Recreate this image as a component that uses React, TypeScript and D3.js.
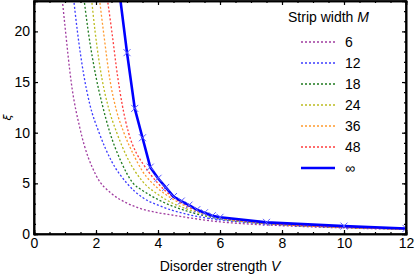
import * as d3 from 'd3';
import { useEffect, useRef } from 'react';

// strip widths and their colours
const widths = ['6', '12', '18', '24', '36', '48'];
const colors = ['#a03ca0', '#3c3cff', '#1e7a1e', '#bcbc20', '#ff9a2e', '#ff3c3c'];

// finite strip curves (V, xi)
const vM6 = [0.9, 1.0, 1.2, 1.5, 2.0, 2.5, 3.0, 3.5, 4.0, 4.5, 5.0, 6.0, 7.0, 8.0, 10.0, 12.0];
const xiM6 = [23.5, 20.5, 15, 10.2, 5.8, 4.0, 3.05, 2.45, 2.1, 1.85, 1.6, 1.2, 0.97, 0.82, 0.6, 0.45];
const vM12 = [1.25, 1.4, 1.6, 1.8, 2.1, 2.5, 3.0, 3.5, 4.0, 5.0, 6.0, 7.0, 8.0, 10.0, 12.0];
const xiM12 = [24, 20, 15.8, 12.8, 10, 7.2, 5.0, 3.6, 2.85, 1.9, 1.4, 1.1, 0.9, 0.65, 0.48];
const vM18 = [1.58, 1.75, 2.0, 2.2, 2.45, 2.8, 3.2, 3.5, 4.0, 5.0, 6.0, 7.0, 8.0, 10.0, 12.0];
const xiM18 = [24, 20, 15.5, 12.8, 10, 7.2, 5.0, 4.3, 3.4, 2.2, 1.5, 1.15, 0.92, 0.66, 0.48];
const vM24 = [1.83, 1.97, 2.2, 2.4, 2.67, 3.0, 3.5, 4.0, 4.5, 5.0, 6.0, 7.0, 8.0, 10.0, 12.0];
const xiM24 = [24, 20, 15.2, 12.5, 10, 7.6, 5.2, 3.9, 3.0, 2.4, 1.55, 1.17, 0.93, 0.66, 0.48];
const vM36 = [2.08, 2.24, 2.45, 2.65, 2.9, 3.2, 3.5, 4.0, 4.5, 5.0, 6.0, 7.0, 8.0, 10.0, 12.0];
const xiM36 = [24, 20, 15.2, 12.3, 10, 7.9, 6.2, 4.5, 3.4, 2.6, 1.6, 1.2, 0.95, 0.67, 0.49];
const vM48 = [2.33, 2.51, 2.7, 2.85, 3.05, 3.3, 3.5, 4.0, 4.5, 5.0, 6.0, 7.0, 8.0, 10.0, 12.0];
const xiM48 = [24, 20, 15.5, 12.7, 10, 8.0, 7.0, 5.0, 3.6, 2.7, 1.65, 1.22, 0.96, 0.68, 0.5];

// M -> infinity (thick line with crosses)
const vInf = [2.75, 3.0, 3.25, 3.5, 3.75, 4.0, 4.25, 4.5, 4.75, 5.0, 5.25, 5.5, 5.75, 6.0, 7.5, 10.0, 12.0];
const xiInf = [24, 17.9, 12.4, 9.5, 6.6, 5.5, 4.6, 3.7, 3.25, 2.85, 2.4, 2.1, 1.8, 1.65, 1.15, 0.78, 0.55];

const xTicks = [0, 2, 4, 6, 8, 10, 12];
const yTicks = [0, 5, 10, 15, 20];

function App() {
  const svgRef = useRef<SVGSVGElement>(null);

  useEffect(() => {
    const w = 415;
    const h = 277;
    const svg = d3.select(svgRef.current);
    svg.selectAll('*').remove();
    svg.attr('width', w).attr('height', h)
      .style('font-family', "'Liberation Sans', Arial, sans-serif");

    const left = 34, right = 406, top = 1, bottom = 234;
    const x = d3.scaleLinear().domain([0, 12]).range([left, right]);
    const y = d3.scaleLinear().domain([0, 23]).range([bottom, top]);

    svg.append('defs').append('clipPath').attr('id', 'plotclip')
      .append('rect').attr('x', left).attr('y', top).attr('width', right - left).attr('height', bottom - top);

    const line = d3.line<[number, number]>().x(d => x(d[0])).y(d => y(d[1])).curve(d3.curveMonotoneX);
    const series = [
      [vM6, xiM6], [vM12, xiM12], [vM18, xiM18], [vM24, xiM24], [vM36, xiM36], [vM48, xiM48],
    ];
    const plot = svg.append('g').attr('clip-path', 'url(#plotclip)');
    series.forEach(([vs, xs], i) => {
      plot.append('path')
        .datum(vs.map((v, j) => [v, xs[j]] as [number, number]))
        .attr('d', line)
        .attr('fill', 'none')
        .attr('stroke', colors[i])
        .attr('stroke-width', 1.3)
        .attr('stroke-dasharray', '2,2');
    });

    const infPts = vInf.map((v, j) => [v, xiInf[j]] as [number, number]);
    plot.append('path')
      .datum(infPts)
      .attr('d', d3.line<[number, number]>().x(d => x(d[0])).y(d => y(d[1])))
      .attr('fill', 'none')
      .attr('stroke', '#0000ff')
      .attr('stroke-width', 2.6);
    // crosses
    const cr = 3.5;
    plot.selectAll('.cross')
      .data(infPts)
      .enter().append('path')
      .attr('class', 'cross')
      .attr('d', d => `M${x(d[0]) - cr},${y(d[1]) - cr}L${x(d[0]) + cr},${y(d[1]) + cr}M${x(d[0]) - cr},${y(d[1]) + cr}L${x(d[0]) + cr},${y(d[1]) - cr}`)
      .attr('stroke', '#5a5aff')
      .attr('stroke-width', 1);

    // axes: ticks pointing inward on all four sides
    const fontSize = '14px';
    const gx = svg.append('g').attr('transform', `translate(0,${bottom})`)
      .call(d3.axisBottom(x).tickValues(xTicks).tickSize(-4).tickPadding(4).tickFormat(d3.format('d')));
    gx.selectAll('text').style('font-size', fontSize).attr('fill', '#000');
    svg.append('g').attr('transform', `translate(0,${bottom})`)
      .call(d3.axisBottom(x).tickValues(d3.range(0, 12.01, 0.5)).tickSize(-2).tickFormat(() => ''));
    svg.append('g').attr('transform', `translate(0,${top})`)
      .call(d3.axisTop(x).tickValues(xTicks).tickSize(-4).tickFormat(() => ''));
    svg.append('g').attr('transform', `translate(0,${top})`)
      .call(d3.axisTop(x).tickValues(d3.range(0, 12.01, 0.5)).tickSize(-2).tickFormat(() => ''));

    const gy = svg.append('g').attr('transform', `translate(${left},0)`)
      .call(d3.axisLeft(y).tickValues(yTicks).tickSize(-4).tickPadding(4).tickFormat(d3.format('d')));
    gy.selectAll('text').style('font-size', fontSize).attr('fill', '#000');
    svg.append('g').attr('transform', `translate(${left},0)`)
      .call(d3.axisLeft(y).tickValues(d3.range(0, 23.01, 1)).tickSize(-2).tickFormat(() => ''));
    svg.append('g').attr('transform', `translate(${right},0)`)
      .call(d3.axisRight(y).tickValues(yTicks).tickSize(-4).tickFormat(() => ''));
    svg.append('g').attr('transform', `translate(${right},0)`)
      .call(d3.axisRight(y).tickValues(d3.range(0, 23.01, 1)).tickSize(-2).tickFormat(() => ''));

    svg.selectAll('.domain').attr('stroke', '#000').attr('stroke-width', 1.6);
    svg.selectAll('.tick line').attr('stroke', '#000').attr('stroke-width', 1.2);

    svg.append('rect')
      .attr('x', left).attr('y', top).attr('width', right - left).attr('height', bottom - top)
      .attr('fill', 'none').attr('stroke', '#000').attr('stroke-width', 1.6);

    // axis titles
    const xt = svg.append('text')
      .attr('x', (left + right) / 2).attr('y', 271)
      .attr('text-anchor', 'middle').style('font-size', fontSize);
    xt.append('tspan').text('Disorder strength ');
    xt.append('tspan').style('font-style', 'italic').text('V');

    svg.append('text')
      .attr('transform', `translate(11,${y(11.5)}) rotate(-90)`)
      .attr('text-anchor', 'middle')
      .style('font-family', "'DejaVu Sans', sans-serif")
      .style('font-size', '11px').style('font-style', 'italic')
      .text('ξ');

    // legend
    const lg = svg.append('g');
    const lt = lg.append('text').attr('x', 288).attr('y', 22).style('font-size', fontSize);
    lt.append('tspan').text('Strip width ');
    lt.append('tspan').style('font-style', 'italic').text('M');
    const rowY = (i: number) => 42 + i * 21;
    widths.forEach((m, i) => {
      lg.append('line').attr('x1', 301).attr('x2', 335).attr('y1', rowY(i)).attr('y2', rowY(i))
        .attr('stroke', colors[i]).attr('stroke-width', 1.3).attr('stroke-dasharray', '2,2');
      lg.append('text').attr('x', 345).attr('y', rowY(i) + 5).style('font-size', fontSize).text(m);
    });
    lg.append('line').attr('x1', 301).attr('x2', 335).attr('y1', rowY(6)).attr('y2', rowY(6))
      .attr('stroke', '#0000ff').attr('stroke-width', 2.6);
    lg.append('text').attr('x', 345).attr('y', rowY(6) + 5).style('font-size', fontSize).text('∞');
  }, []);

  return <svg ref={svgRef} style={{ display: 'block', position: 'absolute', left: 0, top: 0 }}></svg>;
}

export default App;
